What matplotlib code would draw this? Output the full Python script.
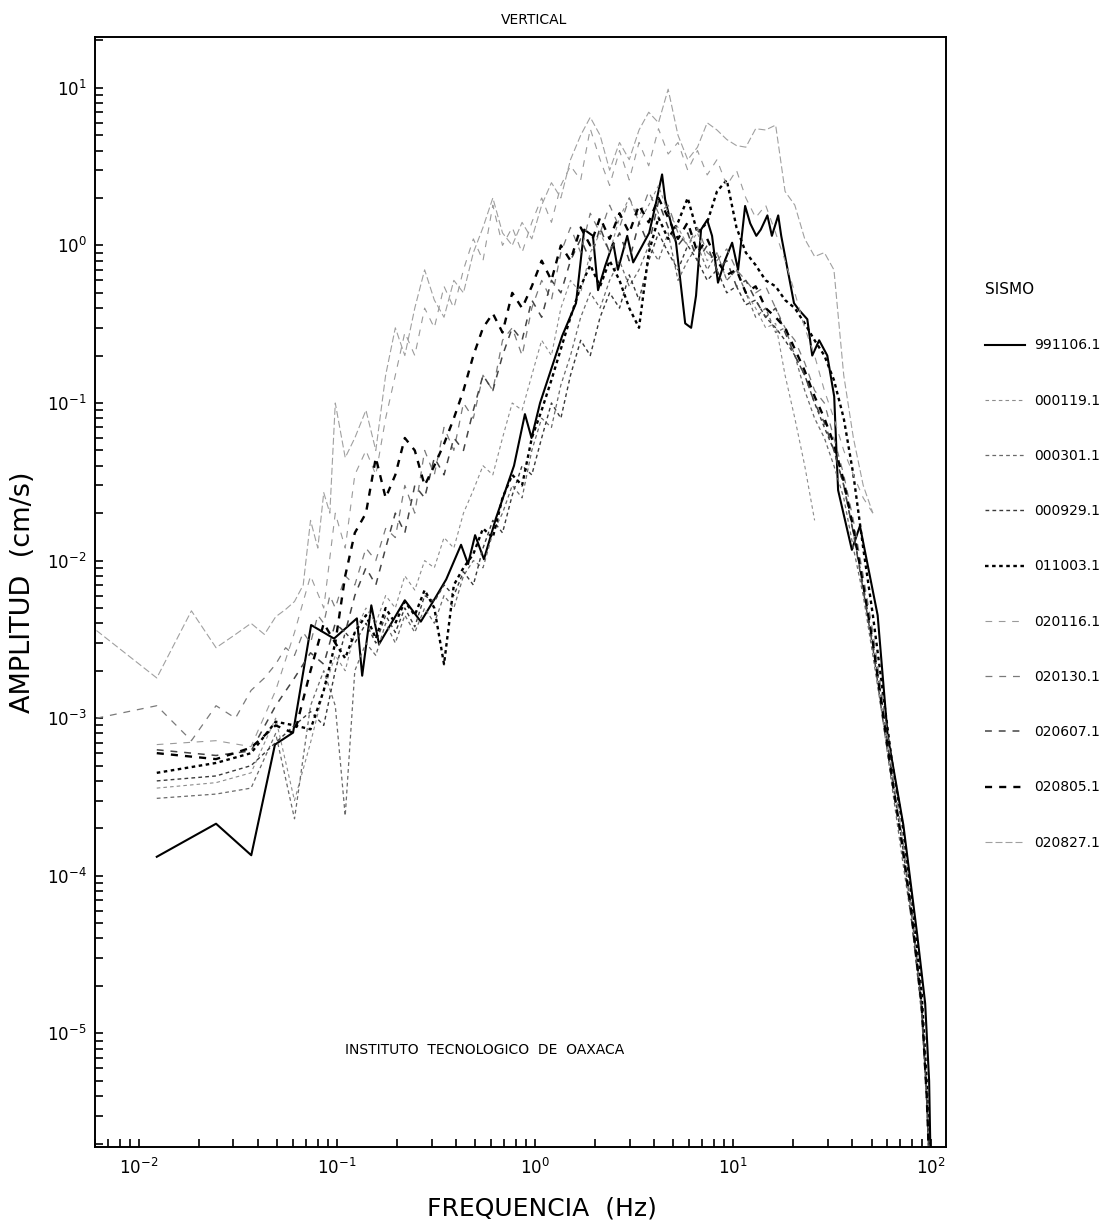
import numpy as np
import matplotlib
matplotlib.use("Agg")
import matplotlib.pyplot as plt
from matplotlib.ticker import LogLocator, NullFormatter

plt.rcParams['font.family'] = ['DejaVu Sans']
plt.rcParams['axes.linewidth'] = 1.4

# frequency grids (Hz)
f_low = [0.0123, 0.0245, 0.0368, 0.049, 0.061, 0.0735, 0.0857, 0.098, 0.11, 0.123]
f_long = [0.0061, 0.0123, 0.0184, 0.0245, 0.0307, 0.0368, 0.043, 0.049, 0.055,
          0.061, 0.0675, 0.0735, 0.08, 0.0857, 0.092, 0.098, 0.11, 0.123]
f_mid = [0.14, 0.157, 0.176, 0.197, 0.22, 0.247, 0.277, 0.31, 0.347, 0.389,
         0.435, 0.488, 0.546, 0.612, 0.685, 0.767, 0.86, 0.963, 1.08, 1.21,
         1.35, 1.51, 1.7, 1.9, 2.13, 2.38, 2.67, 2.99, 3.35, 3.75,
         4.2, 4.7, 5.27, 5.9, 6.61, 7.4, 8.29, 9.29, 10.4, 11.6,
         13.0, 14.6, 16.4, 18.3, 20.5, 23.0, 25.8, 28.9, 32.3, 36.2,
         40.5, 45.4, 50.8, 56.9, 63.8, 71.4, 80.0, 89.6, 95.0, 99.0]

# 991106.1 (own sampling)
f_991106 = [0.0123, 0.0245, 0.0369, 0.0486, 0.060, 0.074, 0.0966, 0.126, 0.134, 0.149,
            0.163, 0.22, 0.265, 0.316, 0.356, 0.423, 0.459, 0.498, 0.552, 0.635,
            0.783, 0.889, 0.96, 1.06, 1.37, 1.61, 1.77, 1.96, 2.08, 2.26,
            2.48, 2.62, 2.92, 3.13, 3.77, 4.08, 4.38, 4.54, 4.86, 5.15,
            5.73, 6.14, 6.50, 6.89, 7.40, 7.83, 8.39, 9.12, 9.89, 10.6,
            11.5, 12.2, 13.1, 13.8, 14.9, 15.7, 16.9, 17.5, 18.7, 20.3,
            21.5, 23.7, 25.1, 27.2, 29.9, 32.4, 33.9, 39.8, 43.7, 53.7,
            60.3, 72.4, 85.1, 93.3, 97.7, 100.0]
a_991106 = [1.32e-4, 2.14e-4, 1.35e-4, 6.8e-4, 8.1e-4, 3.9e-3, 3.2e-3, 4.3e-3, 1.86e-3, 5.2e-3,
            2.95e-3, 5.6e-3, 4.1e-3, 5.9e-3, 7.6e-3, 0.0126, 9.5e-3, 0.0145, 0.0102, 0.0186,
            0.040, 0.085, 0.06, 0.10, 0.266, 0.43, 1.26, 1.15, 0.52, 0.74,
            1.04, 0.70, 1.15, 0.78, 1.2, 1.86, 2.82, 1.95, 1.38, 1.04,
            0.32, 0.30, 0.48, 1.26, 1.45, 1.15, 0.58, 0.81, 1.04, 0.70,
            1.78, 1.38, 1.15, 1.26, 1.55, 1.15, 1.55, 1.15, 0.74, 0.43,
            0.39, 0.34, 0.20, 0.25, 0.20, 0.11, 0.028, 0.0117, 0.0166, 4.5e-3,
            7.8e-4, 2.1e-4, 4.2e-5, 1.55e-5, 5e-6, 1e-6]

a_000119 = [3.6e-4, 3.9e-4, 4.5e-4, 1e-3, 3e-4, 7e-4, 1.5e-3, 2.5e-3, 2e-3, 3.5e-3,
            5e-3, 4e-3, 6e-3, 5e-3, 8e-3, 6.5e-3, 0.01, 9e-3, 0.014, 0.012,
            0.02, 0.028, 0.04, 0.035, 0.06, 0.1, 0.09, 0.15, 0.25, 0.2,
            0.4, 0.6, 0.5, 0.9, 1.2, 0.9, 1.5, 2.0, 1.4, 1.8,
            2.4, 1.6, 1.3, 1.0, 1.2, 0.8, 0.9, 0.6, 0.7, 0.5,
            0.4, 0.3, 0.32, 0.15, 0.08, 0.04, 0.018]

a_000301 = [3.1e-4, 3.3e-4, 3.6e-4, 8e-4, 2.3e-4, 1.2e-3, 2e-3, 1.2e-3, 2.4e-4, 2e-3,
            3e-3, 2.5e-3, 4e-3, 3e-3, 4.5e-3, 3.5e-3, 5e-3, 4e-3, 6e-3, 5e-3,
            8e-3, 0.01, 9e-3, 0.015, 0.02, 0.03, 0.025, 0.05, 0.08, 0.07,
            0.13, 0.2, 0.35, 0.5, 0.4, 0.6, 0.8, 0.55, 0.7, 1.0,
            0.8, 1.2, 0.6, 0.8, 1.0, 0.7, 0.9, 0.6, 0.7, 0.5,
            0.35, 0.4, 0.28, 0.3, 0.2, 0.12, 0.08, 0.06, 0.04, 0.025,
            0.012, 6e-3, 2.5e-3, 1e-3, 3.5e-4, 1.3e-4, 5e-5, 1.3e-5, 3.5e-6, 1e-6]

a_000929 = [4e-4, 4.3e-4, 5e-4, 7e-4, 9e-4, 1.1e-3, 9e-4, 2e-3, 3.5e-3, 3e-3,
            4e-3, 3e-3, 4.5e-3, 3.5e-3, 5e-3, 3.8e-3, 6e-3, 5.5e-3, 7e-3, 6e-3,
            8.5e-3, 7e-3, 0.012, 0.018, 0.015, 0.026, 0.04, 0.035, 0.06, 0.1,
            0.08, 0.15, 0.25, 0.2, 0.35, 0.5, 0.4, 0.65, 0.45, 0.8,
            1.2, 0.9, 0.7, 1.0, 0.8, 0.6, 0.7, 0.5, 0.55, 0.42,
            0.45, 0.35, 0.3, 0.25, 0.2, 0.15, 0.1, 0.07, 0.05, 0.03,
            0.015, 7e-3, 3e-3, 1.2e-3, 4e-4, 1.6e-4, 5.5e-5, 1.5e-5, 4e-6, 1e-6]

a_011003 = [4.5e-4, 5.2e-4, 6e-4, 9.5e-4, 9e-4, 8.5e-4, 1.5e-3, 3e-3, 2.4e-3, 3.5e-3,
            4.5e-3, 3.2e-3, 5e-3, 4e-3, 5.5e-3, 4.5e-3, 6.5e-3, 5e-3, 2.2e-3, 7e-3,
            9e-3, 0.011, 0.016, 0.014, 0.025, 0.035, 0.03, 0.06, 0.09, 0.14,
            0.22, 0.35, 0.55, 0.75, 0.55, 0.8, 0.6, 0.4, 0.3, 0.9,
            1.5, 1.1, 1.4, 2.0, 1.2, 1.4, 2.2, 2.6, 1.3, 0.9,
            0.75, 0.6, 0.55, 0.45, 0.4, 0.32, 0.25, 0.2, 0.14, 0.08,
            0.035, 0.012, 4.5e-3, 1.5e-3, 5e-4, 2.2e-4, 7e-5, 1.8e-5, 5e-6, 1.2e-6]

a_020116 = [6.8e-4, 7.2e-4, 6.6e-4, 1.5e-3, 3.5e-3, 8e-3, 5e-3, 0.02, 0.012, 0.035,
            0.05, 0.035, 0.08, 0.15, 0.28, 0.2, 0.4, 0.3, 0.55, 0.4,
            0.7, 1.1, 0.8, 1.8, 1.0, 1.3, 0.9, 1.4, 2.0, 1.4,
            2.4, 3.2, 2.6, 5.5, 3.5, 2.4, 4.0, 2.6, 4.5, 3.2,
            5.5, 3.8, 4.5, 3.0, 4.0, 2.8, 3.5, 2.4, 3.0, 2.0,
            1.5, 1.8, 1.2, 0.8, 0.5, 0.3, 0.2, 0.12, 0.08, 0.05,
            0.035, 0.025, 0.02]

a_020130 = [1.0e-3, 1.2e-3, 7.2e-4, 1.2e-3, 1.0e-3, 1.5e-3, 1.8e-3, 2.2e-3, 2.8e-3,
            2.5e-3, 3.5e-3, 3e-3, 4.5e-3, 4e-3, 6e-3, 5e-3, 8e-3, 7e-3,
            0.012, 0.01, 0.016, 0.014, 0.03, 0.02, 0.05, 0.035, 0.07, 0.05,
            0.1, 0.08, 0.15, 0.12, 0.25, 0.3, 0.2, 0.4, 0.6, 0.45,
            0.9, 1.3, 0.9, 1.6, 1.2, 1.8, 1.3, 2.0, 1.5, 2.2,
            1.6, 1.8, 1.2, 1.0, 1.3, 0.9, 0.8, 0.95, 0.7, 0.6,
            0.5, 0.55, 0.4, 0.3, 0.25, 0.18, 0.12, 0.1, 0.06, 0.035,
            0.018, 8e-3, 3.5e-3, 1.3e-3, 4.5e-4, 1.8e-4, 6e-5, 1.6e-5, 4.5e-6, 1.1e-6]

a_020607 = [6.3e-4, 5.8e-4, 6.2e-4, 1.2e-3, 1.8e-3, 2.6e-3, 2.2e-3, 4e-3, 3.5e-3, 6e-3,
            9e-3, 7e-3, 0.012, 0.02, 0.015, 0.03, 0.025, 0.045, 0.035, 0.06,
            0.05, 0.09, 0.15, 0.12, 0.2, 0.3, 0.25, 0.45, 0.35, 0.6,
            0.5, 0.8, 1.1, 0.8, 1.3, 0.9, 1.2, 0.8, 1.4, 1.0,
            1.9, 1.3, 1.0, 1.2, 0.8, 1.0, 0.7, 0.8, 0.55, 0.6,
            0.45, 0.35, 0.4, 0.28, 0.2, 0.15, 0.1, 0.075, 0.05, 0.03,
            0.015, 6.5e-3, 2.8e-3, 1e-3, 3.8e-4, 1.5e-4, 5e-5, 1.4e-5, 4e-6, 1e-6]

a_020805 = [6e-4, 5.5e-4, 6.5e-4, 9e-4, 8e-4, 2e-3, 4e-3, 3e-3, 8e-3, 0.015,
            0.02, 0.045, 0.025, 0.035, 0.06, 0.05, 0.03, 0.04, 0.055, 0.08,
            0.12, 0.2, 0.3, 0.37, 0.28, 0.5, 0.4, 0.55, 0.8, 0.6,
            1.0, 0.8, 1.3, 1.0, 1.5, 1.1, 1.6, 1.2, 1.8, 1.4,
            2.0, 1.5, 1.1, 1.4, 0.9, 1.1, 0.8, 0.65, 0.7, 0.5,
            0.55, 0.4, 0.35, 0.3, 0.22, 0.16, 0.11, 0.08, 0.055, 0.032,
            0.016, 7e-3, 3e-3, 1.1e-3, 4e-4, 1.6e-4, 5.5e-5, 1.5e-5, 4e-6, 1e-6]

a_020827 = [3.6e-3, 1.8e-3, 4.8e-3, 2.8e-3, 3.4e-3, 4.0e-3, 3.4e-3, 4.4e-3, 4.9e-3,
            5.5e-3, 7e-3, 0.018, 0.012, 0.027, 0.02, 0.1, 0.045, 0.06,
            0.09, 0.05, 0.15, 0.3, 0.2, 0.4, 0.7, 0.45, 0.35, 0.6,
            0.5, 0.9, 1.3, 2.0, 1.2, 1.0, 1.4, 1.1, 1.8, 2.5,
            2.0, 3.5, 5.0, 6.5, 5.0, 3.0, 4.5, 3.5, 5.4, 7.0,
            6.0, 9.8, 5.0, 3.5, 4.2, 6.0, 5.4, 4.7, 4.3, 4.2,
            5.5, 5.4, 5.8, 2.2, 1.8, 1.1, 0.85, 0.9, 0.7, 0.15,
            0.06, 0.03, 0.02]

labels = ['991106.1', '000119.1', '000301.1', '000929.1', '011003.1',
          '020116.1', '020130.1', '020607.1', '020805.1', '020827.1']
freqs = [f_991106, f_low + f_mid, f_low + f_mid, f_low + f_mid, f_low + f_mid,
         f_low + f_mid, f_long + f_mid, f_low + f_mid, f_low + f_mid, f_long + f_mid]
amps = [a_991106, a_000119, a_000301, a_000929, a_011003,
        a_020116, a_020130, a_020607, a_020805, a_020827]

styles = [
    dict(color='black', lw=1.5, ls='-'),
    dict(color='#8c8c8c', lw=0.8, ls=(0, (3.2, 2.8))),
    dict(color='#6a6a6a', lw=0.9, ls=(0, (3, 2.5))),
    dict(color='#3a3a3a', lw=1.0, ls=(0, (2.7, 2.3))),
    dict(color='black', lw=1.7, ls=(0, (1.5, 1.5))),
    dict(color='#9a9a9a', lw=0.8, ls=(0, (6, 6))),
    dict(color='#7a7a7a', lw=0.9, ls=(0, (5.5, 5.5))),
    dict(color='#444444', lw=1.1, ls=(0, (4.5, 4.5))),
    dict(color='black', lw=1.7, ls=(0, (3, 3))),
    dict(color='#a0a0a0', lw=0.8, ls=(0, (6.3, 2.7))),
]

fig = plt.figure(figsize=(11.09, 12.26), dpi=100)
ax = fig.add_axes([0.0857, 0.0644, 0.7674, 0.9054])

for lab, f, a, st in zip(labels, freqs, amps, styles):
    ax.plot(f[:len(a)], a, label=lab, **st)

ax.set_xscale('log')
ax.set_yscale('log')
ax.set_xlim(0.006, 119)
ax.set_ylim(1.9e-6, 21)

ax.xaxis.set_major_locator(LogLocator(base=10, numticks=20))
ax.yaxis.set_major_locator(LogLocator(base=10, numticks=20))
ax.xaxis.set_minor_locator(LogLocator(base=10, subs=np.arange(2, 10), numticks=100))
ax.yaxis.set_minor_locator(LogLocator(base=10, subs=np.arange(2, 10), numticks=100))
ax.xaxis.set_minor_formatter(NullFormatter())
ax.yaxis.set_minor_formatter(NullFormatter())
ax.tick_params(which='both', direction='in', length=6, width=1.2,
               top=False, right=False, labelsize=12)
ax.tick_params(axis='x', pad=8)
ax.tick_params(axis='y', pad=6)

ax.set_xlabel('FREQUENCIA  (Hz)', fontsize=18)
ax.set_ylabel('AMPLITUD  (cm/s)', fontsize=19.5)
ax.xaxis.set_label_coords(0.525, -0.045)
ax.yaxis.set_label_coords(-0.069, 0.5)

ax.text(0.458, 0.087, 'INSTITUTO  TECNOLOGICO  DE  OAXACA', transform=ax.transAxes,
        ha='center', va='center', fontsize=10)
fig.text(0.482, 0.984, 'VERTICAL', ha='center', va='center', fontsize=10)

leg = fig.legend(loc='upper left', bbox_to_anchor=(0.877, 0.78), frameon=False,
                 title='SISMO', fontsize=10, title_fontsize=11, alignment='left',
                 handlelength=2.9, handletextpad=0.65, labelspacing=2.97)

fig.savefig('out.png', dpi=100)
